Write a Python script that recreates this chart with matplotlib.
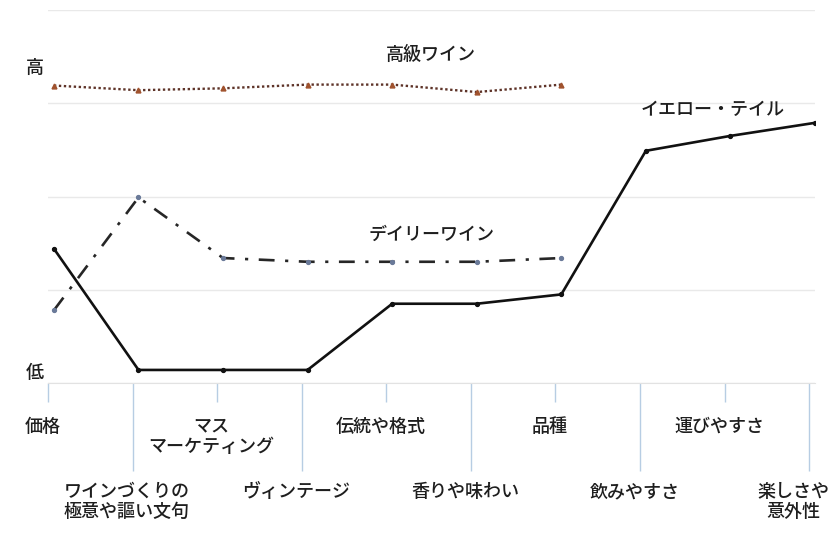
import matplotlib
matplotlib.use("Agg")
import matplotlib.pyplot as plt
from matplotlib.transforms import ScaledTranslation

plt.rcParams['font.family'] = ['Noto Sans CJK JP', 'DejaVu Sans']

categories = ['価格', 'ワインづくりの\n極意や謳い文句', 'マス\nマーケティング', 'ヴィンテージ',
              '伝統や格式', '香りや味わい', '品種', '飲みやすさ', '運びやすさ', '楽しさや\n意外性']
yellow_tail = [1.44, 0.14, 0.14, 0.14, 0.85, 0.85, 0.95, 2.49, 2.65, 2.79]
premium_wine = [3.19, 3.14, 3.16, 3.20, 3.20, 3.12, 3.20]
daily_wine = [0.78, 1.99, 1.34, 1.30, 1.30, 1.30, 1.34]
series_names = ['イエロー・テイル', '高級ワイン', 'デイリーワイン']
y_labels = ['高', '低']

TXT = '#1e1e1e'
FS = 13
WT = 'medium'

fig = plt.figure(figsize=(8.38, 5.34), dpi=100)
ax = fig.add_axes([48/838, 151/534, 767/838, 373/534])

x_all = list(range(len(categories)))
ax.plot(x_all, yellow_tail, color='#111111', lw=1.9, marker='o', ms=2.8, zorder=4)
ax.plot(x_all[:len(premium_wine)], premium_wine, color='#5e3328', lw=1.7,
        linestyle=(0, (1, 1.1)), marker='^', ms=3.5, mfc='#a0522d', mec='#a0522d', zorder=3)
ax.plot(x_all[:len(daily_wine)], daily_wine, color='#262626', lw=1.9,
        linestyle=(0, (6, 4, 1.2, 4)), marker='o', ms=2.8, mfc='#6a7a99', mec='#6a7a99', zorder=3)

ax.set_xlim(0, 9)
ax.set_ylim(0, 4)
ax.set_yticks([0, 1, 2, 3, 4])
ax.yaxis.grid(True, color='#e9e9e9', lw=1.0)
ax.tick_params(axis='y', left=False, labelleft=False)
for s in ['left', 'right', 'top']:
    ax.spines[s].set_visible(False)
ax.spines['bottom'].set_color('#e2e2e2')
ax.set_axisbelow(True)

off = 0.07
major = [i - off for i in x_all[0::2]]
minor = [i - off for i in x_all[1::2]]
ax.set_xticks(major)
ax.set_xticklabels(categories[0::2], fontsize=FS, color=TXT, fontweight=WT, linespacing=1.15)
ax.set_xticks(minor, minor=True)
ax.set_xticklabels(categories[1::2], minor=True, fontsize=FS, color=TXT, fontweight=WT, linespacing=1.15)
ax.tick_params(axis='x', which='major', length=14, width=1, color='#b7cde3', pad=11, direction='out')
ax.tick_params(axis='x', which='minor', length=63, width=1, color='#b7cde3', pad=9, direction='out')
shift = ScaledTranslation(-4/72, 0, fig.dpi_scale_trans)
for lab in ax.get_xticklabels() + ax.get_xticklabels(minor=True):
    lab.set_transform(lab.get_transform() + shift)
last = ax.get_xticklabels(minor=True)[-1]
last.set_transform(last.get_transform() + ScaledTranslation(-7/72, 0, fig.dpi_scale_trans))

ax.text(7.79, 2.93, series_names[0], fontsize=FS, fontweight=WT, ha='center', va='center', color=TXT)
ax.text(4.46, 3.52, series_names[1], fontsize=FS, fontweight=WT, ha='center', va='center', color=TXT)
ax.text(4.46, 1.59, series_names[2], fontsize=FS, fontweight=WT, ha='center', va='center', color=TXT)
ax.text(-0.23, 3.38, y_labels[0], fontsize=FS, fontweight=WT, ha='center', va='center', color=TXT, clip_on=False)
ax.text(-0.23, 0.11, y_labels[1], fontsize=FS, fontweight=WT, ha='center', va='center', color=TXT, clip_on=False)

fig.savefig('out.png', dpi=100)
